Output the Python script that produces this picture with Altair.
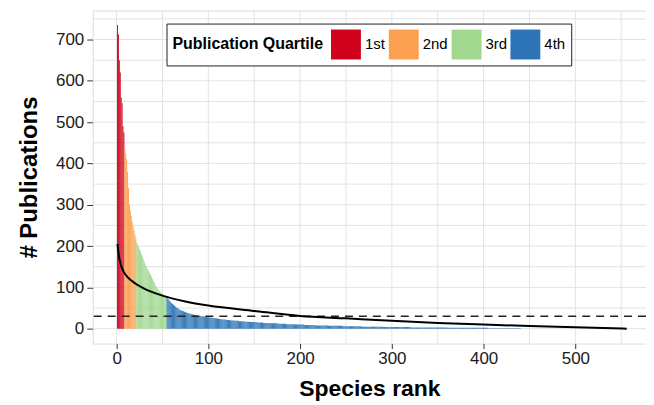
import altair as alt
import pandas as pd

# ---- data ----
red_vals = [735, 712, 650, 620, 560, 546, 490, 475]
orange_vals = [440, 425, 410, 380, 340, 300, 285, 272, 260, 248, 238, 228, 218]
green_vals = [208, 204, 199, 193, 187, 181, 175, 169, 163, 157, 152, 148, 144, 140,
              136, 131, 126, 121, 116, 111, 107, 103, 99, 96, 93, 90, 88, 86, 84,
              82, 80, 78, 76]
blue_head = [76, 73, 70, 67, 64, 62, 60, 58, 56, 54, 52, 50, 49, 47, 46, 45, 44, 43,
             42, 41, 40, 39, 38, 38, 37, 36, 36, 35, 35, 34, 34, 33, 33, 32, 32, 31,
             31, 31, 30, 30, 30, 29, 29, 29, 28, 28]
blue_tail_values = [27, 26, 25, 24, 23, 22, 21, 20, 19, 18, 17, 16, 15, 14, 13, 12,
                    11, 10, 9, 8, 7, 6, 5, 4, 3, 2, 1, 0]
blue_tail_counts = [3, 3, 3, 3, 3, 4, 4, 5, 5, 6, 6, 7, 7, 8, 8, 9,
                    10, 10, 12, 14, 16, 20, 24, 30, 40, 45, 35, 116]

quartile_labels = ["1st", "2nd", "3rd", "4th"]
quartile_colors = ["#D0021B", "#FBA050", "#A0D890", "#2C74B5"]

fit_rank = [1, 2, 3, 5, 8, 12, 20, 30, 50, 75, 100, 150, 200, 250, 300, 350, 400,
            450, 500, 556]
fit_value = [205, 185, 170, 152, 137, 125, 110, 97, 80, 66, 56, 43, 31, 25, 19, 14,
             10, 6.5, 3.5, 0]
threshold = 30

x_ticks = [0, 100, 200, 300, 400, 500]
y_ticks = [0, 100, 200, 300, 400, 500, 600, 700]
x_grid = [0, 50, 100, 150, 200, 250, 300, 350, 400, 450, 500, 550]
y_grid = [0, 50, 100, 150, 200, 250, 300, 350, 400, 450, 500, 550, 600, 650, 700, 750]

# ---- build tables ----
blue_tail = []
for v, c in zip(blue_tail_values, blue_tail_counts):
    blue_tail += [v] * c
groups = [red_vals, orange_vals, green_vals, blue_head + blue_tail]
rows = []
for q, vals in zip(quartile_labels, groups):
    for v in vals:
        rows.append({"pubs": v, "quartile": q})
bars_df = pd.DataFrame(rows)
bars_df["rank"] = range(1, len(bars_df) + 1)

fit_df = pd.DataFrame({"rank": fit_rank, "value": fit_value})
gx_df = pd.DataFrame({"g": x_grid})
gy_df = pd.DataFrame({"g": y_grid})

FONT = "Liberation Sans"
xscale = alt.Scale(domain=[-26, 577], nice=False, zero=False)
yscale = alt.Scale(domain=[-36, 770], nice=False, zero=False)

xaxis = alt.Axis(values=x_ticks, title="Species rank", grid=False,
                 domain=False, tickSize=5, tickColor="#333",
                 labelFontSize=17, labelColor="#1a1a1a", labelPadding=2,
                 titleFontSize=23, titleFontWeight="bold",
                 titlePadding=11, titleColor="#000", labelFont=FONT,
                 titleFont=FONT)
yaxis = alt.Axis(values=y_ticks, title="# Publications", grid=False,
                 domain=False, tickSize=6, tickColor="#333",
                 labelFontSize=17, labelColor="#1a1a1a", labelPadding=3,
                 titleFontSize=24, titleFontWeight="bold",
                 titlePadding=14, titleColor="#000", labelFont=FONT,
                 titleFont=FONT)

gridx = alt.Chart(gx_df).mark_rule(color="#E3E3E3", strokeWidth=1).encode(
    x=alt.X("g:Q", scale=xscale, axis=xaxis))
gridy = alt.Chart(gy_df).mark_rule(color="#E3E3E3", strokeWidth=1).encode(
    y=alt.Y("g:Q", scale=yscale, axis=yaxis))

bars = alt.Chart(bars_df).transform_calculate(
    x0="datum.rank - 0.5", x1="datum.rank + 0.5"
).mark_rect().encode(
    x=alt.X("x0:Q", scale=xscale, axis=xaxis),
    x2="x1:Q",
    y=alt.Y("pubs:Q", scale=yscale, axis=yaxis),
    y2=alt.datum(0),
    color=alt.Color("quartile:N",
                    scale=alt.Scale(domain=quartile_labels, range=quartile_colors),
                    legend=alt.Legend(title="Publication Quartile", orient="none",
                                      legendX=74, legendY=13, direction="horizontal",
                                      titleOrient="left", fillColor="white",
                                      strokeColor="#222", padding=6,
                                      symbolType="square", symbolSize=900,
                                      symbolStrokeWidth=0, columnPadding=3,
                                      labelOffset=4, labelFontSize=15,
                                      titleFontSize=16, titleFontWeight="bold",
                                      labelFont=FONT, titleFont=FONT,
                                      titleColor="#000", labelColor="#000",
                                      titlePadding=7, titleBaseline="middle",
                                      titleAnchor="middle")),
)

thr = alt.Chart(pd.DataFrame({"t": [threshold]})).mark_rule(
    color="#222", strokeWidth=1.5, strokeDash=[8, 6]).encode(
    y=alt.Y("t:Q", scale=yscale, axis=yaxis))

fit = alt.Chart(fit_df).mark_line(color="#000", strokeWidth=2,
                                  interpolate="monotone").encode(
    x=alt.X("rank:Q", scale=xscale, axis=xaxis),
    y=alt.Y("value:Q", scale=yscale, axis=yaxis))

chart = alt.layer(gridx, gridy, bars, thr, fit).properties(
    width=555, height=334,
    autosize=alt.AutoSizeParams(type="none"),
    padding={"left": 85, "top": 2, "right": 0, "bottom": 60},
).configure_view(stroke="#666", strokeWidth=1).configure(background="white")

chart.save("out.html", embed_options={"renderer": "svg", "actions": False})
